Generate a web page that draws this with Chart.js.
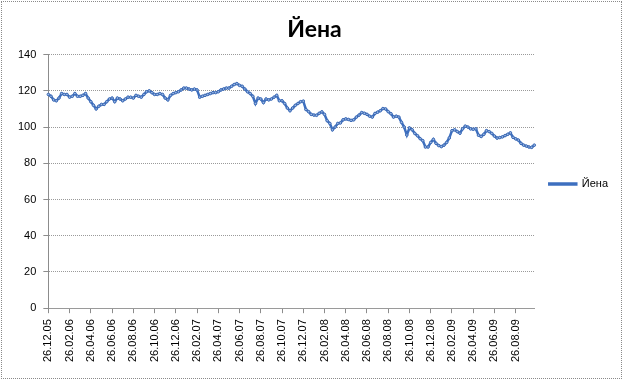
<!DOCTYPE html>
<html>
<head>
<meta charset="utf-8">
<script src="https://cdn.jsdelivr.net/npm/chart.js@4.4.0/dist/chart.umd.min.js"></script>
<style>
    body { margin: 0; background: #fff; }
    #wrap { position: relative; width: 623px; height: 380px; }
    #frame {
        position: absolute; left: 1px; top: 1px; width: 621px; height: 378px;
        box-sizing: border-box; border: 1px dotted #8a8a8a; pointer-events: none;
    }
</style>
</head>
<body>
<div id="wrap">
    <canvas id="yen-chart" width="623" height="380"></canvas>
    <div id="frame"></div>
</div>
<script>
// Даты (примерно раз в неделю)
const dates = [
    '26.12.05', '04.01.06', '11.01.06', '18.01.06', '26.01.06', '04.02.06', '11.02.06', '18.02.06',
    '26.02.06', '04.03.06', '11.03.06', '18.03.06', '26.03.06', '04.04.06', '11.04.06', '18.04.06',
    '26.04.06', '04.05.06', '11.05.06', '18.05.06', '26.05.06', '04.06.06', '11.06.06', '18.06.06',
    '26.06.06', '04.07.06', '11.07.06', '18.07.06', '26.07.06', '04.08.06', '11.08.06', '18.08.06',
    '26.08.06', '04.09.06', '11.09.06', '18.09.06', '26.09.06', '04.10.06', '11.10.06', '18.10.06',
    '26.10.06', '04.11.06', '11.11.06', '18.11.06', '26.11.06', '04.12.06', '11.12.06', '18.12.06',
    '26.12.06', '04.01.07', '11.01.07', '18.01.07', '26.01.07', '04.02.07', '11.02.07', '18.02.07',
    '26.02.07', '04.03.07', '11.03.07', '18.03.07', '26.03.07', '04.04.07', '11.04.07', '18.04.07',
    '26.04.07', '04.05.07', '11.05.07', '18.05.07', '26.05.07', '04.06.07', '11.06.07', '18.06.07',
    '26.06.07', '04.07.07', '11.07.07', '18.07.07', '26.07.07', '04.08.07', '11.08.07', '18.08.07',
    '26.08.07', '04.09.07', '11.09.07', '18.09.07', '26.09.07', '04.10.07', '11.10.07', '18.10.07',
    '26.10.07', '04.11.07', '11.11.07', '18.11.07', '26.11.07', '04.12.07', '11.12.07', '18.12.07',
    '26.12.07', '04.01.08', '11.01.08', '18.01.08', '26.01.08', '04.02.08', '11.02.08', '18.02.08',
    '26.02.08', '04.03.08', '11.03.08', '18.03.08', '26.03.08', '04.04.08', '11.04.08', '18.04.08',
    '26.04.08', '04.05.08', '11.05.08', '18.05.08', '26.05.08', '04.06.08', '11.06.08', '18.06.08',
    '26.06.08', '04.07.08', '11.07.08', '18.07.08', '26.07.08', '04.08.08', '11.08.08', '18.08.08',
    '26.08.08', '04.09.08', '11.09.08', '18.09.08', '26.09.08', '04.10.08', '11.10.08', '18.10.08',
    '26.10.08', '04.11.08', '11.11.08', '18.11.08', '26.11.08', '04.12.08', '11.12.08', '18.12.08',
    '26.12.08', '04.01.09', '11.01.09', '18.01.09', '26.01.09', '04.02.09', '11.02.09', '18.02.09',
    '26.02.09', '04.03.09', '11.03.09', '18.03.09', '26.03.09', '04.04.09', '11.04.09', '18.04.09',
    '26.04.09', '04.05.09', '11.05.09', '18.05.09', '26.05.09', '04.06.09', '11.06.09', '18.06.09',
    '26.06.09', '04.07.09', '11.07.09', '18.07.09', '26.07.09', '04.08.09', '11.08.09', '18.08.09',
    '26.08.09', '04.09.09', '11.09.09', '18.09.09', '26.09.09', '04.10.09', '11.10.09', '18.10.09'
];

// Курс йены
const yen = [
    118, 117, 115, 114.5, 116, 118.5, 118, 118, 116.5, 117,
    118.5, 117, 117, 117.5, 118.5, 116, 114, 112, 110, 111.5,
    112.5, 112.5, 114, 115.5, 116, 114, 116, 115.5, 114.5, 115.5,
    116.5, 116.5, 116, 117.5, 117, 116.5, 118, 119.5, 120, 119,
    118, 118, 118.5, 118, 116, 115, 117.5, 118.5, 119, 119.5,
    120.5, 121.5, 121.5, 121, 120.5, 121, 120.5, 116.5, 117, 117.5,
    118, 118.5, 119, 119, 119.5, 120.5, 121, 121.5, 121.5, 122.5,
    123.5, 124, 123, 122.5, 121, 119.5, 118.5, 117, 113, 116,
    115.5, 113.5, 115.5, 115, 115.5, 116.5, 117.5, 114.5, 114.5, 113,
    110.5, 109, 110.5, 112, 113, 114, 114.3, 109.7, 108.5, 107,
    106.6, 106.5, 107.6, 108.4, 107, 103.5, 102, 98.5, 100, 102,
    102.3, 104, 104.5, 104.2, 103.7, 104, 105.5, 106.6, 108, 107.6,
    107, 106, 105.5, 107.5, 108.2, 109, 110.2, 110, 108.5, 107.4,
    105.5, 106, 105.5, 102.6, 100, 95.6, 99.5, 98.5, 96.5, 95.2,
    93.6, 92.5, 89, 89, 91.5, 93.2, 91, 89.8, 89.2, 90,
    91.5, 94, 98, 98.5, 97.5, 96.6, 99, 100.5, 100, 99,
    98.8, 99, 95.5, 94.8, 96, 98, 97.5, 96.5, 95, 93.9,
    94.2, 94.6, 95.3, 96, 96.8, 94.3, 93.5, 92.8, 91, 90,
    89.5, 89, 88.8, 90
];

// Подписи оси X — каждые два месяца
const labelStep = 8;
const yTicks = [0, 20, 40, 60, 80, 100, 120, 140];

const axisFont = { family: 'Liberation Sans', size: 11 };

const ctx = document.getElementById('yen-chart').getContext('2d');
const chart = new Chart(ctx, {
    type: 'line',
    data: {
        labels: dates,
        datasets: [
            {
                label: 'Йена',
                data: yen,
                borderColor: '#3d6fbf',
                backgroundColor: '#3d6fbf',
                borderWidth: 2.5,
                pointRadius: 1.3,
                pointBorderWidth: 1,
                pointBorderColor: '#3a68b4',
                pointBackgroundColor: '#9cb9e4',
                tension: 0
            }
        ]
    },
    options: {
        responsive: false,
        animation: false,
        layout: {
            padding: { left: 11, right: 5, top: 0, bottom: 12 }
        },
        plugins: {
            title: {
                display: true,
                text: 'Йена',
                color: '#000',
                font: { family: 'Lato', size: 23, weight: 'bold' },
                padding: { top: 16, bottom: 11 }
            },
            legend: {
                position: 'right',
                labels: {
                    color: '#000',
                    font: axisFont,
                    boxWidth: 27,
                    boxHeight: 1,
                    padding: 15
                }
            },
            tooltip: { enabled: false }
        },
        scales: {
            x: {
                type: 'category',
                offset: false,
                ticks: {
                    autoSkip: false,
                    minRotation: 90,
                    maxRotation: 90,
                    padding: 6,
                    color: '#000',
                    font: axisFont,
                    callback: function (val, idx) {
                        return idx % labelStep === 0 ? dates[idx] : null;
                    }
                },
                grid: {
                    drawOnChartArea: false,
                    drawTicks: true,
                    tickLength: 5,
                    color: '#8c8c8c'
                },
                border: { color: '#9a9a9a', dash: [1, 1] }
            },
            y: {
                min: yTicks[0],
                max: yTicks[yTicks.length - 1],
                ticks: {
                    stepSize: 20,
                    padding: 7,
                    color: '#000',
                    font: axisFont
                },
                grid: {
                    color: '#9a9a9a',
                    tickLength: 5,
                    tickColor: '#8c8c8c'
                },
                border: { color: '#8c8c8c', dash: [1, 1] }
            }
        }
    }
});
</script>
</body>
</html>
